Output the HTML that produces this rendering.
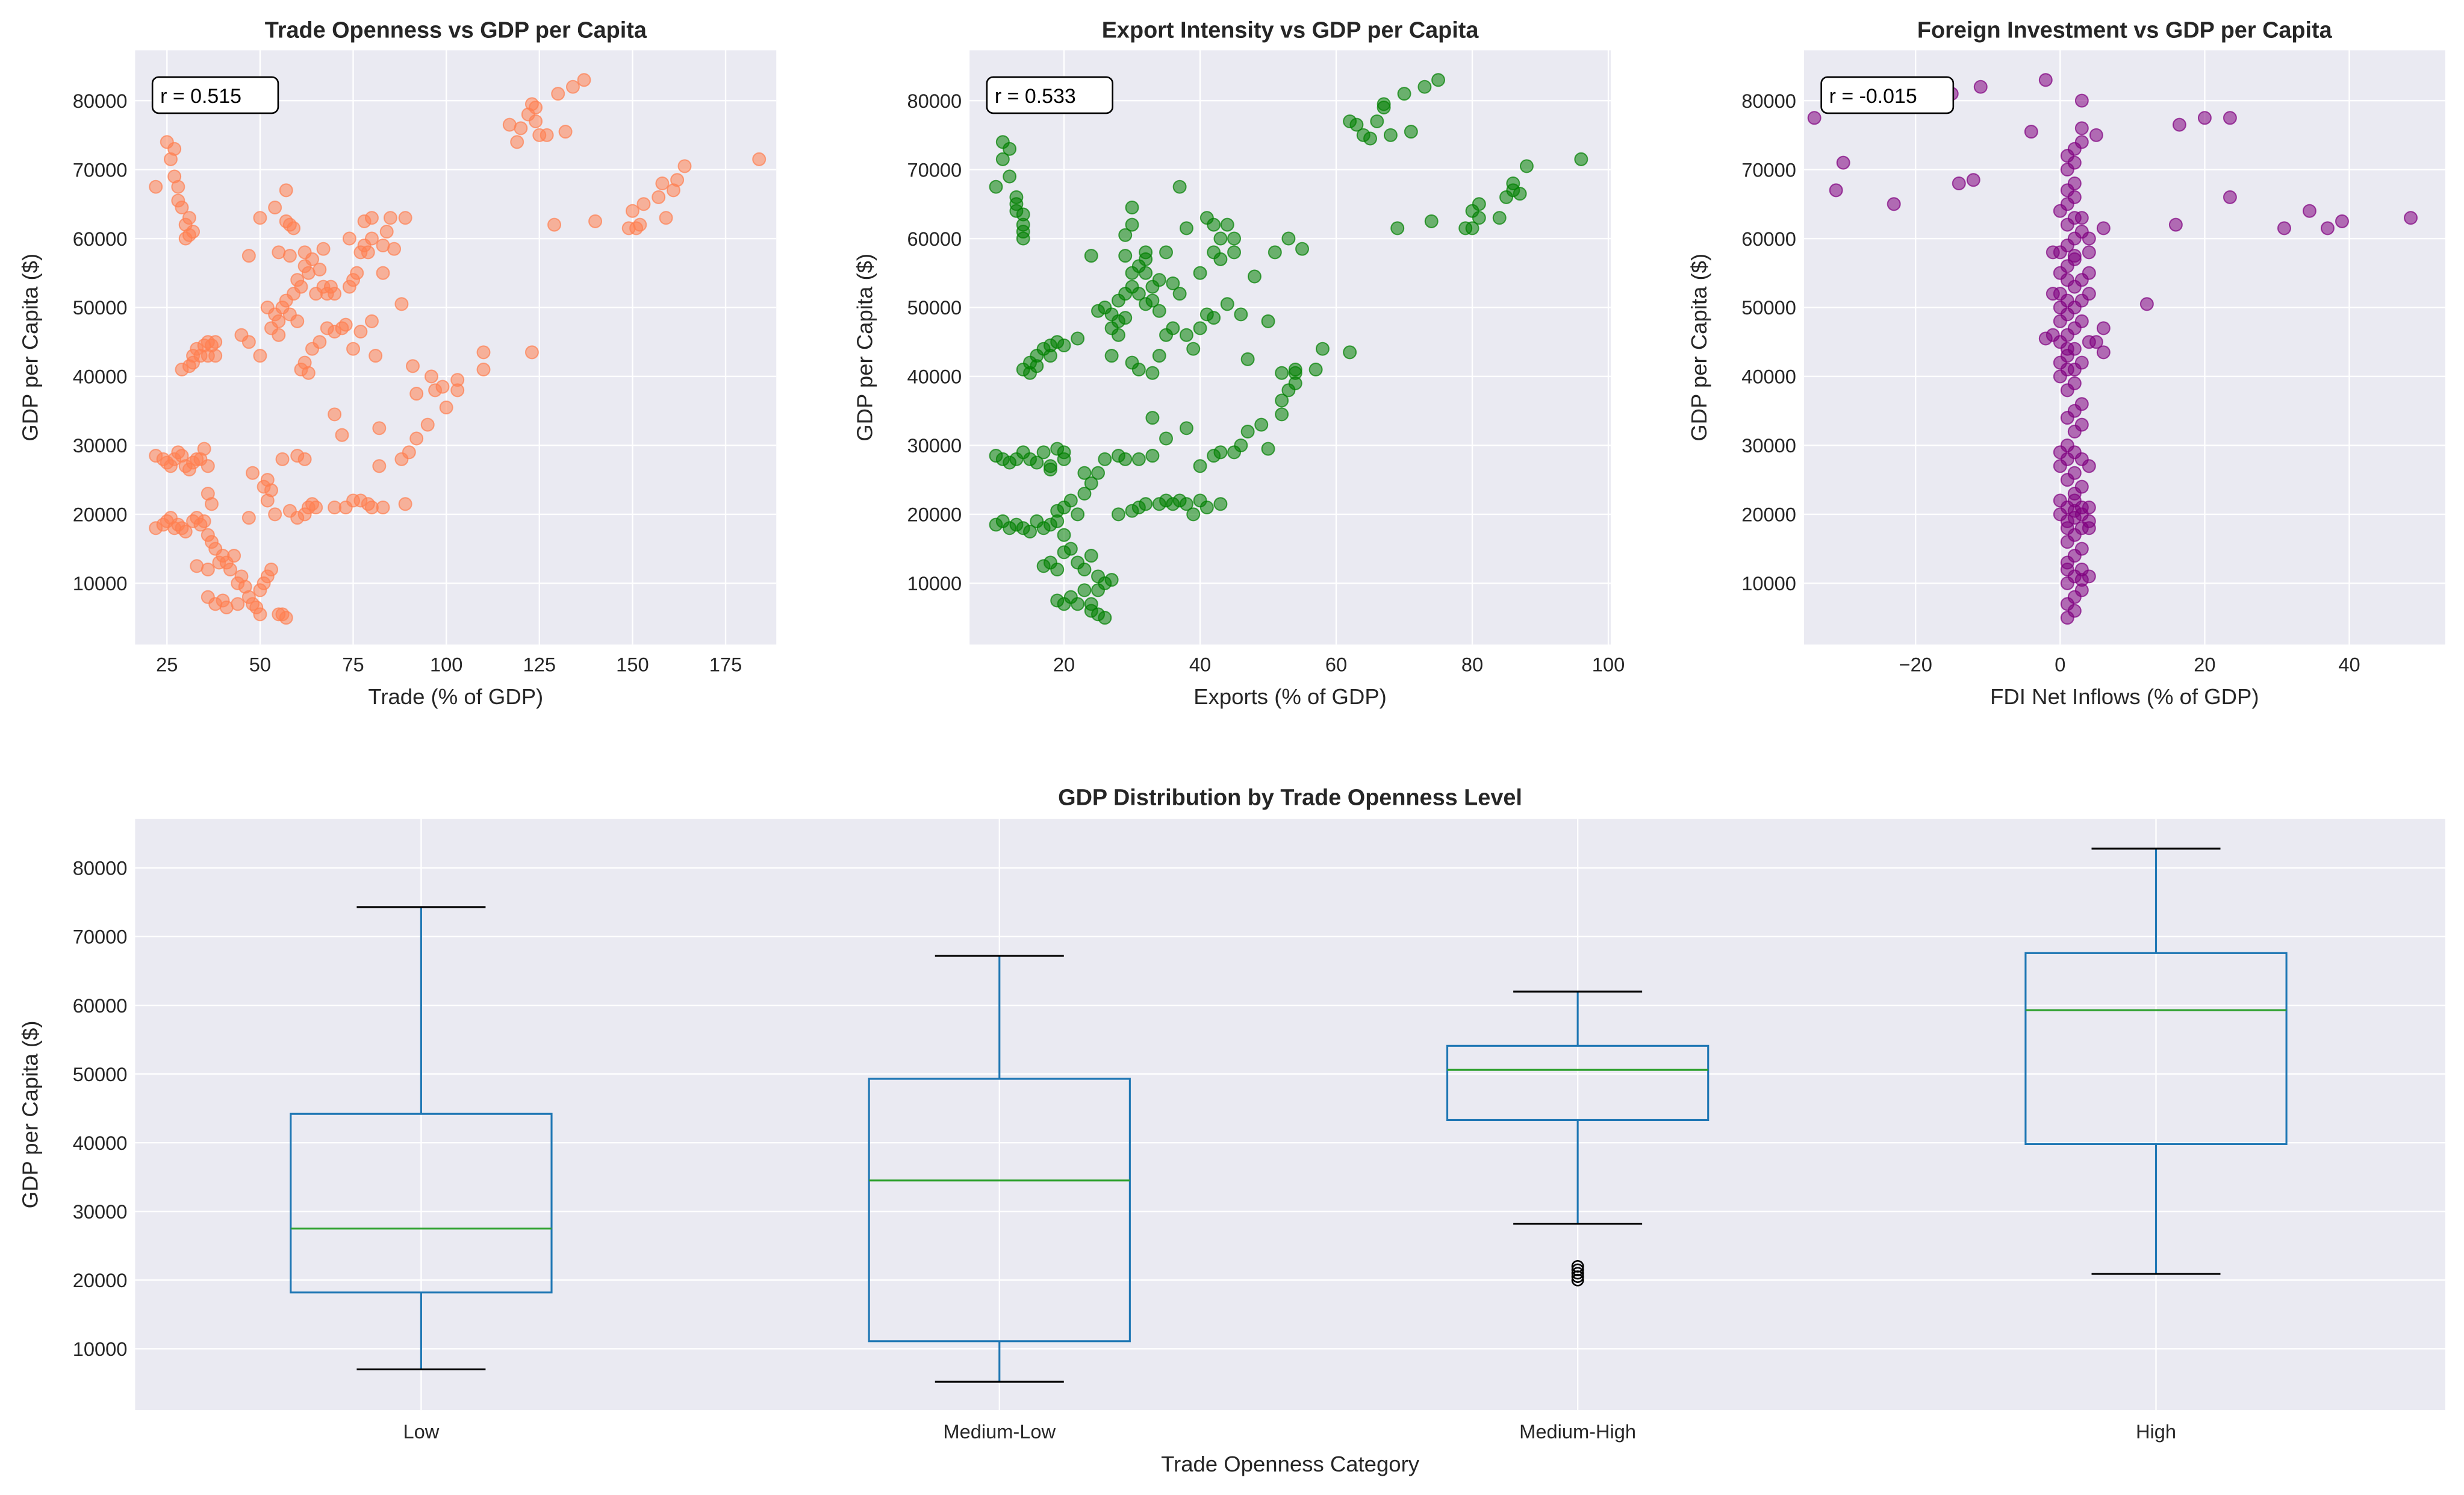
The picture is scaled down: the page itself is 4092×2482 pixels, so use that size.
<!DOCTYPE html>
<html><head><meta charset="utf-8"><style>
html,body{margin:0;padding:0;background:#fff}
svg{display:block;font-family:"Liberation Sans",Arial,sans-serif}
</style></head><body>
<svg id="fig" width="4092" height="2482" viewBox="0 0 1568 951" preserveAspectRatio="none" xmlns="http://www.w3.org/2000/svg"></svg>
<script>
// ---------- data ----------
const tradeGdp = [[22,67.5],[25,74],[26,71.5],[27,69],[27,73],[28,65.5],[28,67.5],[29,64.5],[30,62],[31,60.5],[30,60],[32,61],[31,63],
[29,41],[31,41.5],[32,43],[33,44],[34,43],[35,44.5],[36,45],[37,44.5],[38,43],[38,45],[32,42],[36,43],
[22,28.5],[24,28],[25,27.5],[26,27],[27,28],[28,29],[29,28.5],[30,27],[31,26.5],[32,27.5],[33,28],[35,29.5],[34,28],[36,27],[37,21.5],[36,23],[22,18],[24,18.5],[25,19],[26,19.5],[27,18],[28,18.5],[29,18],[30,17.5],[32,19],[33,19.5],[34,18.5],[35,19],[36,17],[37,16],[38,15],[39,13],[36,12],[33,12.5],[40,14],[41,13],[42,12],[43,14],[44,10],[45,11],[46,9.5],[47,8],[48,7],[49,6.5],[50,9],[51,10],[52,11],[53,12],[50,5.5],[44,7],[40,7.5],[38,7],[41,6.5],[36,8],[47,19.5],[48,26],[52,25],[52,22],[51,24],[53,23.5],[54,20],[56,5.5],[55,5.5],[57,5],[56,28],[60,28.5],[62,28],[63,21],[64,21.5],[62,20],[60,19.5],[65,21],[58,20.5],
[45,46],[47,45],[47,57.5],[50,43],[50,63],[52,50],[53,47],[54,49],[54,64.5],[55,46],[55,48],[56,50],[57,51],[57,62.5],[57,67],[58,49],[58,57.5],[59,52],[59,61.5],[60,48],[60,54],[61,53],[61,41],[62,42],[62,56],[63,55],[63,40.5],[64,57],[64,44],[65,52],[66,55.5],[66,45],[67,58.5],[67,53],[68,47],[68,52],[69,53],[70,34.5],[70,46.5],[72,47],[72,31.5],[73,47.5],[74,60],[74,53],[75,54],[76,55],[77,46.5],[77,58],[78,62.5],[78,59],[79,58],[79,21.5],[80,63],[80,60],[80,48],[80,21],[81,43],[82,32.5],[82,27],[83,55],[83,21],[83,59],[84,61],[85,63],[86,58.5],[75,22],[73,21],[70,21],[77,22],[58,62],[55,58],[62,58],[75,44],[70,52],
[88,28],[88,50.5],[89,21.5],[90,29],[91,41.5],[92,31],[92,37.5],[95,33],[96,40],[97,38],[99,38.5],[100,35.5],[103,39.5],[103,38],[110,43.5],[110,41],[123,43.5],[89,63],
[117,76.5],[119,74],[120,76],[122,78],[123,79.5],[124,77],[125,75],[127,75],[129,62],[130,81],[132,75.5],[134,82],[137,83],[140,62.5],[149,61.5],[150,64],[151,61.5],[152,62],[153,65],[157,66],[158,68],[159,63],[161,67],[162,68.5],[164,70.5],[184,71.5],[124,79]];
const exportGdp = [[10,67.5],[11,71.5],[11,74],[12,73],[12,69],[13,66],[13,65],[14,63.5],[14,62],[14,61],[14,60],[13,64],
[14,41],[15,42],[16,43],[17,44],[18,44.5],[19,45],[16,41.5],[18,43],[20,44.5],[15,40.5],
[10,28.5],[11,28],[12,27.5],[13,28],[14,29],[15,28],[16,27.5],[17,29],[18,27],[19,29.5],[20,28],[18,26.5],[10,18.5],[11,19],[12,18],[13,18.5],[14,18],[15,17.5],[16,19],[17,18],[18,18.5],[19,19],[20,17],[17,12.5],[18,13],[19,12],[20,14.5],[21,15],[22,13],[23,12],[24,14],[25,11],[26,10],[27,10.5],[25,9],[24,6],[25,5.5],[26,5],[19,7.5],[20,7],[21,8],[22,7],[23,9],[24,7],[19,20.5],[20,21],[21,22],[22,20],[23,23],[24,24.5],[25,26],[26,28],[28,28.5],[29,28],[31,28],[33,28.5],[23,26],[28,20],[30,20.5],[31,21],[32,21.5],[34,21.5],[35,22],[36,21.5],[37,22],[38,21.5],[39,20],[40,22],[41,21],[43,21.5],[33,34],[35,31],[38,32.5],[40,27],[42,28.5],[43,29],[45,29],[46,30],[47,32],[49,33],[50,29.5],[52,34.5],[52,36.5],[53,38],[54,39],[54,40.5],[57,41],[58,44],[62,43.5],
[20,29],[22,45.5],[24,57.5],[25,49.5],[26,50],[27,47],[27,49],[28,48],[28,51],[29,52],[29,57.5],[29,60.5],[30,62],[30,64.5],[29,48.5],[30,55],[30,53],[31,52],[31,56],[32,57],[32,58],[32,50.5],[33,51],[33,53],[34,54],[34,43],[35,46],[35,58],[36,47],[36,53.5],[37,67.5],[37,52],[38,61.5],[38,46],[39,44],[40,55],[40,47],[41,49],[41,63],[42,62],[42,58],[42,48.5],[43,60],[43,57],[44,62],[44,50.5],[45,58],[45,60],[46,49],[47,42.5],[48,54.5],[50,48],[51,58],[52,40.5],[53,60],[54,41],[55,58.5],[30,42],[31,41],[33,40.5],[34,49.5],[32,55],[27,43],[28,46],
[62,77],[63,76.5],[64,75],[65,74.5],[66,77],[67,79],[67,79.5],[68,75],[70,81],[71,75.5],[73,82],[75,83],[69,61.5],[74,62.5],[79,61.5],[80,64],[80,61.5],[81,65],[81,63],[84,63],[85,66],[86,68],[86,67],[87,66.5],[88,70.5],[96,71.5]];
const fdiGdp = [[-34,77.5],[-30,71],[-31,67],[-23,65],[-20,80],[-15,81],[-11,82],[-14,68],[-12,68.5],[-4,75.5],[-2,83],[3,80],[16,62],[16.5,76.5],[20,77.5],[23.5,77.5],[23.5,66],[31,61.5],[34.5,64],[37,61.5],[39,62.5],[48.5,63],[12,50.5],[6,61.5],[5,75],[6,47],[4,52],[5,45],[6,43.5],[-2,45.5],[-1,52],[4,60],[3,63],
[1,5],[2,6],[1,7],[2,8],[3,9],[1,10],[2,11],[3,12],[1,13],[2,14],[3,15],[1,16],[2,17],[3,18],[4,18],[1,19],[2,19.5],[3,20],[4,21],[0,22],[1,21],[2,22],[3,21],[0,27],[1,28],[2,29],[3,28],[4,27],[0,29],[1,30],[2,32],[3,33],[1,34],[2,35],[3,36],[1,38],[2,39],[0,40],[1,41],[0,42],[1,43],[2,44],[0,45],[1,46],[2,47],[0,48],[1,49],[2,50],[1,51],[0,52],[2,53],[1,54],[3,54],[0,55],[1,56],[2,57],[0,58],[1,59],[2,60],[3,61],[1,62],[2,63],[0,64],[1,65],[2,66],[1,67],[2,68],[1,70],[2,71],[1,72],[2,73],[3,74],[3,76],[2,57.5],[4,45],[3,42],[2,41],[1,44],[-1,46],[3,48],[0,50],[3,51],[4,55],[-1,58],[4,58],[2,26],[1,25],[3,24],[2,23],[1,12],[3,10.5],[4,11],[0,20],[1,18],[2,20.5],[4,19]];
const categories = ["Low","Medium-Low","Medium-High","High"];
const boxWhiskLow = [7000,5200,28200,20900];
const boxQ1 = [18200,11100,43300,39800];
const boxMedian = [27500,34500,50600,59300];
const boxQ3 = [44200,49300,54100,67600];
const boxWhiskHigh = [74300,67200,62000,82800];
const boxOutliers = [[],[],[20000,20500,21000,21500,22000],[]];
const yTicks = [10000,20000,30000,40000,50000,60000,70000,80000];
const tradeTicks = [25,50,75,100,125,150,175];
const exportTicks = [20,40,60,80,100];
const fdiTicks = [-20,0,20,40];
const rLabels = ["r = 0.515","r = 0.533","r = -0.015"];

// ---------- drawing ----------
const NS="http://www.w3.org/2000/svg";
const svg=document.getElementById('fig');
function el(tag,attrs,parent,text){const e=document.createElementNS(NS,tag);for(const k in attrs)e.setAttribute(k,attrs[k]);if(text!==undefined)e.textContent=text;(parent||svg).appendChild(e);return e;}

function scatterPanel(cfg){
  const g=el('g',{});
  
  
  const L=cfg.x0,R=cfg.x1,T=32,B=410;
  const xs=v=>cfg.xOff+v*cfg.xK;
  const ys=v=>414.9-v*43.86/10;
  const bg=el('rect',{x:L,y:T,width:R-L,height:B-T,fill:'#eaeaf2'},g);
  
  
  yTicks.forEach(t=>{const y=ys(t/1000);
    el('line',{x1:L,x2:R,y1:y,y2:y,stroke:'#fff','stroke-width':0.9},g);
    const lb=el('text',{x:L-5,y:y+4.5,'text-anchor':'end','font-size':12.5,fill:'#262626'},g,t);
    
    
  });
  cfg.ticks.forEach(t=>{const x=xs(t);
    el('line',{x1:x,x2:x,y1:T,y2:B,stroke:'#fff','stroke-width':0.9},g);
    const lb=el('text',{x:x,y:B+17,'text-anchor':'middle','font-size':12.5,fill:'#262626'},g,t<0?'\u2212'+(-t):t);
    
    
  });
  cfg.data.forEach(p=>{
    const c=el('circle',{cx:xs(p[0]),cy:ys(p[1]),r:4,fill:cfg.color,'fill-opacity':0.55,stroke:cfg.color,'stroke-opacity':0.7,'stroke-width':0.8},g);
    
    
  });
  const t=el('text',{x:(L+R)/2,y:24,'text-anchor':'middle','font-size':14.5,'font-weight':'bold',fill:'#262626'},g,cfg.title);
  
  
  const xl=el('text',{x:(L+R)/2,y:448,'text-anchor':'middle','font-size':14,fill:'#262626'},g,cfg.xlabel);
  
  
  const yl=el('text',{x:0,y:0,transform:`translate(${L-62},${(T+B)/2}) rotate(-90)`,'text-anchor':'middle','font-size':14,fill:'#262626'},g,'GDP per Capita ($)');
  
  
  const rb=el('rect',{x:L+11,y:49,width:cfg.rw,height:23,rx:4,fill:'#fff',stroke:'#000','stroke-width':1},g);
  
  
  const rt=el('text',{x:L+16,y:65.5,'font-size':13,fill:'#000'},g,cfg.r);
  
  
}
scatterPanel({name:'trade-openness-scatter',x0:86,x1:494,xOff:47,xK:2.37,ticks:tradeTicks,data:tradeGdp,color:'#ff7f50',title:'Trade Openness vs GDP per Capita',xlabel:'Trade (% of GDP)',r:rLabels[0],rw:80});
scatterPanel({name:'export-intensity-scatter',x0:617,x1:1025,xOff:590.5,xK:4.33,ticks:exportTicks,data:exportGdp,color:'#008000',title:'Export Intensity vs GDP per Capita',xlabel:'Exports (% of GDP)',r:rLabels[1],rw:80});
scatterPanel({name:'fdi-scatter',x0:1148,x1:1556,xOff:1311,xK:4.6,ticks:fdiTicks,data:fdiGdp,color:'#800080',title:'Foreign Investment vs GDP per Capita',xlabel:'FDI Net Inflows (% of GDP)',r:rLabels[2],rw:84});

// box plot
(function(){
  const g=el('g',{});
  
  
  const L=86,R=1556,T=521,B=897;
  const ys=v=>901.7-v*43.7/10000;
  const xs=i=>268+i*368;
  const bg=el('rect',{x:L,y:T,width:R-L,height:B-T,fill:'#eaeaf2'},g);
  
  
  yTicks.forEach(t=>{const y=ys(t);
    el('line',{x1:L,x2:R,y1:y,y2:y,stroke:'#fff','stroke-width':0.9},g);
    const lb=el('text',{x:L-5,y:y+4.5,'text-anchor':'end','font-size':12.5,fill:'#262626'},g,t);
    
    
  });
  categories.forEach((c,i)=>{const x=xs(i);
    el('line',{x1:x,x2:x,y1:T,y2:B,stroke:'#fff','stroke-width':0.9},g);
    const lb=el('text',{x:x,y:B+18,'text-anchor':'middle','font-size':12.5,fill:'#262626'},g,c);
    
    
  });
  const hw=83,cw=41;
  categories.forEach((c,i)=>{const x=xs(i);
    const bx=el('g',{},g);
    
    
    const col='#1f77b4';
    el('line',{x1:x,x2:x,y1:ys(boxQ1[i]),y2:ys(boxWhiskLow[i]),stroke:col,'stroke-width':1.2},bx);
    el('line',{x1:x,x2:x,y1:ys(boxQ3[i]),y2:ys(boxWhiskHigh[i]),stroke:col,'stroke-width':1.2},bx);
    el('line',{x1:x-cw,x2:x+cw,y1:ys(boxWhiskLow[i]),y2:ys(boxWhiskLow[i]),stroke:'#000','stroke-width':1.2},bx);
    el('line',{x1:x-cw,x2:x+cw,y1:ys(boxWhiskHigh[i]),y2:ys(boxWhiskHigh[i]),stroke:'#000','stroke-width':1.2},bx);
    el('rect',{x:x-hw,y:ys(boxQ3[i]),width:2*hw,height:ys(boxQ1[i])-ys(boxQ3[i]),fill:'none',stroke:col,'stroke-width':1.2},bx);
    el('line',{x1:x-hw,x2:x+hw,y1:ys(boxMedian[i]),y2:ys(boxMedian[i]),stroke:'#2ca02c','stroke-width':1.2},bx);
    boxOutliers[i].forEach(v=>{
      const o=el('circle',{cx:x,cy:ys(v),r:3.5,fill:'none',stroke:'#000','stroke-width':1},bx);
      
      
    });
  });
  const t=el('text',{x:(L+R)/2,y:512,'text-anchor':'middle','font-size':14.5,'font-weight':'bold',fill:'#262626'},g,'GDP Distribution by Trade Openness Level');
  
  
  const xl=el('text',{x:(L+R)/2,y:936,'text-anchor':'middle','font-size':14,fill:'#262626'},g,'Trade Openness Category');
  
  
  const yl=el('text',{x:0,y:0,transform:`translate(24,${(T+B)/2}) rotate(-90)`,'text-anchor':'middle','font-size':14,fill:'#262626'},g,'GDP per Capita ($)');
  
  
})();
</script>
</body></html>
